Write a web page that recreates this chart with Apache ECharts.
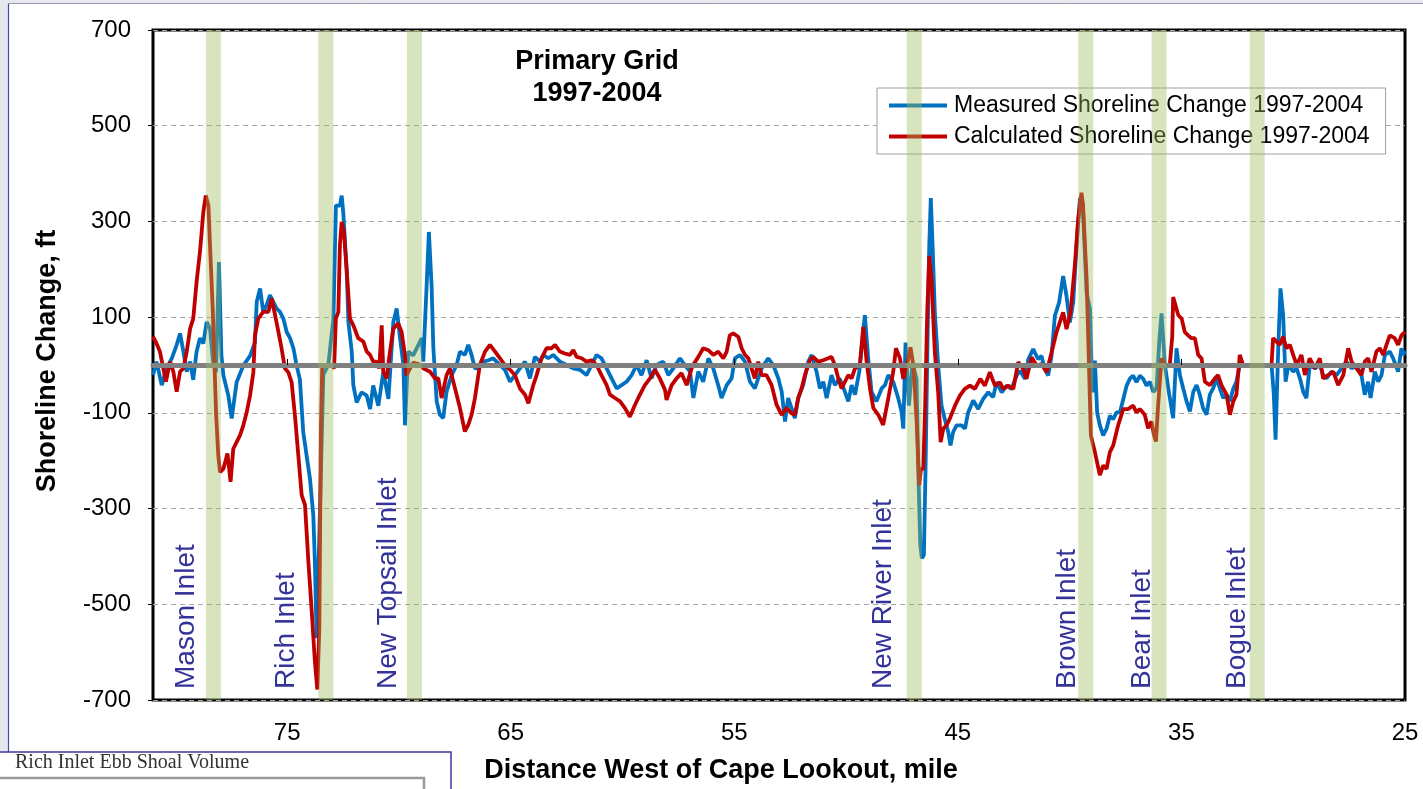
<!DOCTYPE html>
<html>
<head>
<meta charset="utf-8">
<script src="https://cdn.jsdelivr.net/npm/echarts@6/dist/echarts.min.js"></script>
<style>
html,body{margin:0;padding:0;background:#fff;}
#chart{width:1423px;height:789px;}
</style>
</head>
<body>
<div id="chart"></div>
<script>
// ---------- DATA ----------
const xTickValues = [75, 65, 55, 45, 35, 25];
const measuredMiles = [81.0,80.84,80.61,80.39,80.16,79.94,79.79,79.64,79.49,79.34,79.20,79.05,78.90,78.75,78.60,78.45,78.30,78.18,78.05,77.94,77.85,77.63,77.48,77.26,76.96,76.66,76.44,76.36,76.21,76.07,75.92,75.77,75.62,75.47,75.32,75.17,75.02,74.87,74.72,74.58,74.43,74.28,74.13,73.98,73.83,73.76,73.68,73.53,73.38,73.16,72.93,72.82,72.64,72.56,72.49,72.34,72.26,72.11,72.04,71.89,71.67,71.44,71.29,71.15,70.92,70.70,70.47,70.25,70.10,69.95,69.80,69.73,69.58,69.36,68.98,68.91,68.76,68.66,68.54,68.46,68.31,68.17,68.02,67.87,67.64,67.42,67.27,67.05,66.90,66.75,66.60,66.45,66.23,66.00,65.78,65.48,65.26,65.03,64.81,64.59,64.36,64.14,63.92,63.69,63.54,63.32,63.10,62.80,62.50,62.20,61.90,61.61,61.38,61.16,60.94,60.71,60.49,60.26,60.04,59.82,59.59,59.37,59.15,58.92,58.70,58.48,58.18,57.95,57.73,57.43,57.21,56.98,56.83,56.61,56.39,56.16,55.94,55.72,55.57,55.34,55.12,54.97,54.75,54.52,54.30,54.08,53.78,53.48,53.26,53.03,52.88,52.73,52.59,52.44,52.29,52.14,51.92,51.69,51.54,51.32,51.17,51.02,50.87,50.65,50.50,50.29,50.05,49.90,49.75,49.60,49.41,49.31,49.16,49.01,48.86,48.64,48.41,48.26,48.11,47.89,47.67,47.52,47.44,47.34,47.19,47.03,46.85,46.76,46.68,46.61,46.52,46.44,46.36,46.28,46.21,46.13,46.03,45.88,45.73,45.58,45.43,45.33,45.21,45.06,44.83,44.68,44.54,44.31,44.09,43.87,43.64,43.42,43.27,43.04,42.82,42.60,42.37,42.22,42.00,41.85,41.63,41.41,41.26,41.11,40.96,40.81,40.66,40.47,40.29,40.14,39.99,39.84,39.69,39.54,39.42,39.24,39.09,39.02,38.95,38.87,38.77,38.65,38.50,38.35,38.20,38.05,37.90,37.75,37.60,37.45,37.31,37.16,37.01,36.86,36.71,36.56,36.41,36.26,36.11,35.99,35.89,35.74,35.55,35.37,35.22,35.07,34.92,34.77,34.62,34.47,34.32,34.18,34.03,33.88,33.73,33.58,33.43,33.28,33.13,32.98,32.83,32.68,32.54,32.39,32.24,31.64,30.97,30.87,30.79,30.67,30.57,30.45,30.34,30.22,30.00,29.85,29.70,29.55,29.41,29.26,29.03,28.81,28.66,28.51,28.29,28.06,27.84,27.62,27.39,27.17,26.95,26.80,26.65,26.54,26.35,26.20,26.05,25.90,25.68,25.53,25.31,25.16,25.08,25.00];
const measuredValues = [-21,7,-42,-7,14,42,66,28,-14,7,-31,28,56,45,90,76,0,-15,215,20,-22,-64,-112,-36,-1,19,47,132,160,111,125,146,132,118,111,97,69,56,35,0,-30,-140,-189,-237,-314,-411,-571,-300,-20,0,97,333,333,354,319,201,90,28,-42,-78,-57,-64,-92,-43,-85,-15,-71,90,118,56,0,-126,28,20,56,7,167,278,167,35,-76,-104,-111,-56,-21,0,28,21,42,21,-7,-7,7,10,14,0,-10,-35,-21,-7,7,-28,17,7,21,14,21,7,0,-7,-10,-21,0,21,14,-7,-28,-49,-42,-35,-21,0,-21,10,-28,0,7,-21,-7,14,0,-14,-69,-14,-35,14,-7,-42,-69,-42,-28,14,21,7,-35,-49,-7,14,0,-28,-56,-118,-69,-90,-111,-69,-42,7,21,-14,-49,-35,-69,-21,-42,-28,-56,-76,-42,-62,-14,35,104,14,-56,-76,-49,-42,-21,-35,-69,-97,-133,47,-85,5,-29,-237,-376,-404,-397,-203,40,249,349,249,110,-1,-85,-114,-140,-168,-140,-126,-126,-133,-99,-74,-92,-71,-57,-67,-36,-57,-43,-50,-22,-12,-29,12,33,12,19,-8,-22,19,103,131,186,144,89,131,249,349,340,150,117,-1,-57,9,-99,-126,-147,-133,-106,-113,-99,-99,-71,-43,-29,-22,-36,-22,-29,-43,-35,-56,-49,50,108,0,-60,-111,35,-21,-49,-76,-97,-56,-42,-62,-90,-104,-62,-49,-28,-49,-69,-62,-76,-49,-35,0,0,0,0,-60,-156,35,160,104,-35,0,-14,-7,-28,-56,-69,0,-7,0,-21,-28,-14,-21,-7,7,-7,0,-21,-62,-35,-69,-14,-35,-21,21,28,14,-14,35,21,30];

const calculatedMiles = [81.0,80.84,80.69,80.54,80.42,80.24,80.09,79.94,79.79,79.64,79.49,79.34,79.20,79.05,78.90,78.75,78.64,78.52,78.45,78.33,78.18,78.08,78.00,77.85,77.67,77.53,77.41,77.26,77.11,76.96,76.81,76.66,76.51,76.44,76.29,76.07,75.84,75.69,75.54,75.39,75.25,75.10,74.95,74.80,74.65,74.50,74.35,74.20,74.05,73.90,73.76,73.65,73.56,73.49,73.43,73.01,72.90,72.82,72.71,72.64,72.56,72.46,72.34,72.19,72.04,71.82,71.59,71.44,71.29,71.15,71.00,70.88,70.77,70.70,70.55,70.40,70.25,70.03,69.88,69.73,69.66,69.36,68.98,68.91,68.61,68.39,68.24,68.09,67.87,67.72,67.49,67.27,67.05,66.90,66.75,66.60,66.38,66.15,65.93,65.70,65.48,65.26,65.03,64.81,64.59,64.36,64.21,63.99,63.84,63.62,63.40,63.17,63.02,62.80,62.58,62.35,62.20,62.05,61.83,61.61,61.38,61.16,60.94,60.71,60.56,60.34,60.11,59.89,59.67,59.44,59.22,59.00,58.77,58.55,58.33,58.10,58.03,57.80,57.58,57.36,57.13,56.91,56.84,56.61,56.39,56.16,55.94,55.72,55.49,55.34,55.20,55.05,54.82,54.67,54.52,54.37,54.23,54.08,53.93,53.78,53.56,53.33,53.11,52.88,52.66,52.44,52.29,52.14,51.99,51.84,51.62,51.47,51.25,51.02,50.80,50.65,50.50,50.35,50.20,50.05,49.90,49.75,49.60,49.38,49.23,49.08,48.93,48.78,48.56,48.34,48.11,47.89,47.77,47.59,47.44,47.22,47.12,46.99,46.85,46.73,46.65,46.55,46.47,46.37,46.28,46.18,46.03,45.88,45.77,45.65,45.51,45.36,45.13,44.91,44.69,44.46,44.24,44.00,43.79,43.57,43.34,43.12,42.97,42.75,42.52,42.30,42.08,41.93,41.70,41.48,41.26,41.03,40.81,40.59,40.29,40.14,39.96,39.77,39.62,39.47,39.40,39.24,39.14,39.05,38.87,38.65,38.50,38.35,38.20,38.05,37.83,37.60,37.38,37.16,37.01,36.86,36.64,36.49,36.34,36.23,36.14,36.04,35.89,35.74,35.52,35.41,35.37,35.29,35.14,34.99,34.85,34.70,34.55,34.40,34.25,34.10,33.95,33.73,33.50,33.36,33.21,32.98,32.83,32.68,32.54,32.39,32.24,31.64,30.97,30.90,30.75,30.60,30.45,30.30,30.15,30.00,29.85,29.63,29.48,29.26,29.03,28.81,28.66,28.44,28.21,27.99,27.76,27.54,27.39,27.17,26.95,26.80,26.65,26.50,26.28,26.13,25.97,25.83,25.68,25.46,25.31,25.16,25.00];
const calculatedValues = [59,45,28,-7,-35,7,-14,-56,-14,-7,28,76,97,174,236,319,354,333,250,120,-100,-189,-224,-217,-185,-244,-175,-161,-147,-126,-99,-64,-15,62,97,111,111,139,104,69,35,-7,-15,-36,-106,-189,-272,-293,-411,-515,-619,-678,-550,-133,0,0,-7,97,111,250,299,278,201,97,83,56,49,28,21,7,7,-7,83,-14,-28,28,76,87,69,21,-21,5,0,-7,-14,-28,-28,-69,-21,-7,-49,-90,-139,-125,-104,-69,0,28,42,28,14,0,-10,-21,-49,-62,-80,-42,-21,14,35,35,42,28,24,21,31,17,14,7,10,0,-21,-42,-62,-69,-76,-90,-108,-83,-62,-42,-28,-10,-28,-52,-73,-42,-28,-17,-42,-7,0,17,35,31,21,28,14,28,62,66,59,35,21,14,-7,-28,7,-21,-21,-42,-83,-104,-90,-101,-104,-69,-49,-21,10,17,7,10,14,17,0,-28,-49,-35,-21,-28,-7,0,80,7,-49,-90,-104,-125,-69,-14,35,14,-29,12,37,-1,-112,-251,-217,-217,-99,110,228,179,26,-57,-161,-133,-126,-112,-85,-64,-50,-43,-50,-29,-43,-15,-43,-36,-50,-43,-50,6,-8,-29,16,-1,2,-15,26,68,110,75,110,207,304,360,332,179,6,-147,-182,-230,-210,-217,-182,-168,-126,-92,-92,-85,-99,-92,-104,-132,-118,-146,-160,-83,14,0,0,60,142,139,104,97,69,62,56,56,21,14,-35,-42,-28,-21,-42,-62,-104,-76,-62,21,0,0,0,56,49,42,59,35,42,21,0,21,-21,14,-7,14,-28,-21,-14,-42,-21,35,7,-7,-21,7,14,-14,28,35,21,42,62,56,42,62,69];

const inletNames = ['Mason Inlet','Rich Inlet','New Topsail Inlet','New River Inlet','Brown Inlet','Bear Inlet','Bogue Inlet'];
const inletMiles = [78.30, 73.27, 69.31, 46.95, 39.28, 36.00, 31.61];
const inletLabelMiles = [79.52, 75.02, 70.47, 48.35, 40.12, 36.77, 32.50];

const seriesNames = ['Measured Shoreline Change 1997-2004','Calculated Shoreline Change 1997-2004'];

// ---------- CHART ----------
const FONT = "'Liberation Sans', Arial, sans-serif";
const BAND_HALF = 0.335;
const chart = echarts.init(document.getElementById('chart'), null, {renderer:'canvas'});

const measured = measuredMiles.map((m,i)=>[m, measuredValues[i]]);
const calculated = calculatedMiles.map((m,i)=>[m, calculatedValues[i]]);
const inletData = inletMiles.map((m,i)=>[m, inletLabelMiles[i]]);

const option = {
  animation:false,
  backgroundColor:'#fff',
  grid:{left:153, right:18, top:30, bottom:89, show:true, borderColor:'#000', borderWidth:3, backgroundColor:'transparent'},
  legend:{
    data:seriesNames, orient:'vertical', left:877, top:88,
    backgroundColor:'#fff', borderColor:'#a0a0a0', borderWidth:1,
    padding:[6,16,6,12], itemGap:8, itemWidth:58, itemHeight:4, icon:'rect',
    textStyle:{fontSize:23, fontFamily:FONT, color:'#000', padding:[0,0,0,2]}
  },
  xAxis:[
    {type:'value', min:25, max:81, inverse:true, position:'bottom',
     axisLine:{show:false, onZero:false}, axisTick:{show:false}, splitLine:{show:false},
     axisLabel:{customValues:xTickValues, fontSize:24, color:'#000', fontFamily:FONT, margin:21}},
    {type:'value', min:25, max:81, inverse:true, position:'top', z:3,
     axisLine:{show:true, onZero:true, lineStyle:{color:'#808080', width:5}},
     axisTick:{show:true, inside:false, length:6, customValues:xTickValues.slice(0,5), lineStyle:{color:'#000', width:1}},
     axisLabel:{show:false}, splitLine:{show:false}}
  ],
  yAxis:{type:'value', min:-700, max:700, interval:200,
    axisLine:{show:false}, axisTick:{show:true, length:5, lineStyle:{color:'#000'}},
    axisLabel:{fontSize:24, color:'#000', fontFamily:FONT, margin:22},
    splitLine:{show:true, lineStyle:{color:'#a6a6a6', width:1, type:[5,4]}}},
  series:[
    {name:seriesNames[0], type:'line', data:measured, showSymbol:false, symbol:'none',
     lineStyle:{color:'#0070c0', width:3.8}, itemStyle:{color:'#0070c0'}, z:2},
    {name:seriesNames[1], type:'line', data:calculated, showSymbol:false, symbol:'none',
     lineStyle:{color:'#c00000', width:3.8}, itemStyle:{color:'#c00000'}, z:2},
    {type:'custom', name:'inlets', data:inletData, z:4, silent:true,
     renderItem:function(params, api){
       const c = api.value(0), lab = api.value(1);
       const p1 = api.coord([c + BAND_HALF, 700]);
       const p2 = api.coord([c - BAND_HALF, -700]);
       const x = Math.min(p1[0], p2[0]), w = Math.abs(p2[0]-p1[0]);
       const y = Math.min(p1[1], p2[1]), h = Math.abs(p2[1]-p1[1]);
       const lp = api.coord([lab, -700]);
       return {type:'group', children:[
         {type:'rect', shape:{x:x, y:y, width:w, height:h}, style:{fill:'rgba(155,187,89,0.4)'}},
         {type:'text', x:lp[0], y:lp[1]-11, rotation:Math.PI/2,
          style:{text:inletNames[params.dataIndex], fill:'#333399', font:'28px '+FONT, align:'left', verticalAlign:'middle'}}
       ]};
     }}
  ],
  graphic:[
    {type:'rect', shape:{x:0,y:0,width:8,height:752}, style:{fill:'#e6e8ee'}, z:-1},
    {type:'rect', shape:{x:0,y:0,width:1423,height:3}, style:{fill:'#e6e8ee'}, z:-1},
    {type:'line', shape:{x1:8.5,y1:3,x2:8.5,y2:752}, style:{stroke:'#4a4aa6', lineWidth:1.2}},
    {type:'line', shape:{x1:8,y1:3.5,x2:1423,y2:3.5}, style:{stroke:'#9a9ab8', lineWidth:1}},
    {type:'text', x:597, y:62, style:{text:'Primary Grid', font:'bold 27px '+FONT, fill:'#000', align:'center', verticalAlign:'middle'}},
    {type:'text', x:597, y:94, style:{text:'1997-2004', font:'bold 27px '+FONT, fill:'#000', align:'center', verticalAlign:'middle'}},
    {type:'text', x:721, y:771, style:{text:'Distance West of Cape Lookout, mile', font:'bold 27px '+FONT, fill:'#000', align:'center', verticalAlign:'middle'}},
    {type:'text', x:48, y:361, rotation:Math.PI/2, style:{text:'Shoreline Change, ft', font:'bold 27px '+FONT, fill:'#000', align:'center', verticalAlign:'middle'}},
    {type:'rect', shape:{x:-2,y:752,width:453,height:50}, style:{fill:'#fff', stroke:'#3a3a9c', lineWidth:1.5}},
    {type:'text', x:15, y:763, style:{text:'Rich Inlet Ebb Shoal Volume', font:'20px "Liberation Serif", serif', fill:'#333', align:'left', verticalAlign:'middle'}},
    {type:'polyline', shape:{points:[[0,778],[424,778],[424,790]]}, style:{stroke:'#9a9a9a', lineWidth:2.5, fill:null}}
  ]
};
chart.setOption(option);
</script>
</body>
</html>
